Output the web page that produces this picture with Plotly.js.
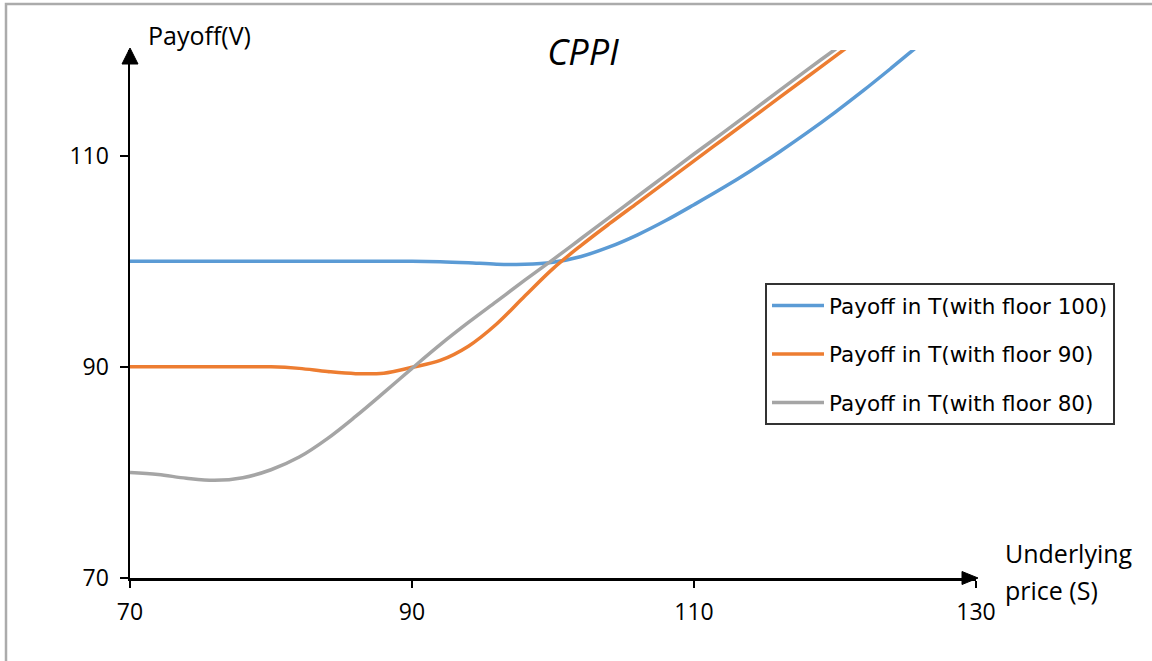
<!DOCTYPE html>
<html>
<head>
<meta charset="utf-8">
<script src="https://cdn.plot.ly/plotly-3.0.1.min.js"></script>
<style>
  html, body { margin: 0; padding: 0; background: #ffffff; }
  #chart { width: 1152px; height: 661px; }
</style>
</head>
<body>
<div id="chart"></div>
<script>
// Underlying price S at expiry
const priceS = [70, 72, 74, 76, 78, 80, 82, 84, 86, 88, 90, 92, 94, 96, 98, 100, 102, 104, 106, 108, 110, 112, 114, 116, 118, 120, 122, 124, 126, 128, 130];

// Payoff of the CPPI strategy at T for three floor levels
const payoffFloor100 = [100, 100, 100, 100, 100, 100, 100, 100, 100, 100, 100, 99.95, 99.85, 99.72, 99.7, 99.9, 100.45, 101.35, 102.5, 103.85, 105.35, 106.9, 108.55, 110.3, 112.15, 114.1, 116.15, 118.3, 120.5, 122.7, 124.9];
const payoffFloor90  = [90, 90, 90, 90, 90, 90, 89.85, 89.55, 89.35, 89.4, 89.95, 90.6, 91.95, 94.05, 96.7, 99.3, 101.5, 103.55, 105.53, 107.51, 109.5, 111.48, 113.46, 115.44, 117.42, 119.4, 121.38, 123.36, 125.34, 127.32, 129.3];
const payoffFloor80  = [80, 79.8, 79.45, 79.25, 79.5, 80.25, 81.45, 83.2, 85.3, 87.55, 89.85, 92.1, 94.2, 96.2, 98.2, 100.15, 102.15, 104.15, 106.15, 108.15, 110.15, 112.1, 114.1, 116.1, 118.1, 120.05, 122.05, 124.0, 126.0, 128.0, 130.0];

const seriesNames = ['Payoff in T(with floor 100)', 'Payoff in T(with floor 90)', 'Payoff in T(with floor 80)'];
const seriesColors = ['#5B9BD5', '#ED7D31', '#A5A5A5'];

const xTicks = [70, 90, 110, 130];
const yTicks = [70, 90, 110];

const seriesValues = [payoffFloor100, payoffFloor90, payoffFloor80];
const traces = seriesValues.map((vals, i) => ({
  x: priceS,
  y: vals,
  type: 'scatter',
  mode: 'lines',
  name: seriesNames[i],
  legendgroup: 'g' + i,
  line: { color: seriesColors[i], width: 3.5, shape: 'spline', smoothing: 1 },
  hoverinfo: 'x+y'
}));

// plot area in pixels: 846 wide, 528 tall
const PW = 846, PH = 528;
const px = p => p / PW;   // pixel -> paper (x)
const py = p => p / PH;   // pixel -> paper (y)

const baseFont = 'Open Sans, Noto Sans, sans-serif';

const shapes = [
  // outer frame of the chart
  { type: 'rect', xref: 'paper', yref: 'paper',
    x0: px(6 - 130), x1: 2, y0: -2, y1: 1 + py(50 - 4),
    line: { color: '#ababab', width: 2.5 }, fillcolor: 'rgba(0,0,0,0)', layer: 'below' },
  // arrow head of the price axis
  { type: 'path', xref: 'paper', yref: 'paper',
    path: `M ${1 + px(2)} 0 L ${1 - px(14)} ${py(6.5)} L ${1 - px(14)} ${-py(6.5)} Z`,
    fillcolor: '#000000', line: { color: '#000000', width: 1 } },
  // arrow head of the payoff axis
  { type: 'path', xref: 'paper', yref: 'paper',
    path: `M 0 ${1 + py(2)} L ${px(8)} ${1 - py(14)} L ${-px(8)} ${1 - py(14)} Z`,
    fillcolor: '#000000', line: { color: '#000000', width: 1 } }
];

const annotations = [
  { text: 'Payoff(V)', xref: 'paper', yref: 'paper', x: px(146 - 130), y: 1 + py(50 - 35),
    xanchor: 'left', yanchor: 'middle', showarrow: false,
    font: { family: baseFont, size: 25, color: '#000000' } },
  { text: 'Underlying', xref: 'paper', yref: 'paper', x: px(1003 - 130), y: py(578 - 553),
    xanchor: 'left', yanchor: 'middle', align: 'left', showarrow: false,
    font: { family: baseFont, size: 25, color: '#000000' } },
  { text: 'price (S)', xref: 'paper', yref: 'paper', x: px(1003 - 130), y: -py(590 - 578),
    xanchor: 'left', yanchor: 'middle', align: 'left', showarrow: false,
    font: { family: baseFont, size: 25, color: '#000000' } }
];

const layout = {
  width: 1152, height: 661,
  margin: { l: 130, r: 176, t: 50, b: 83 },
  paper_bgcolor: '#ffffff', plot_bgcolor: '#ffffff',
  title: { text: '<i>CPPI</i>', x: 583 / 1152, xref: 'container', xanchor: 'center',
           y: 1 - 52 / 661, yref: 'container', yanchor: 'middle',
           font: { family: baseFont, size: 36, color: '#000000' } },
  xaxis: { range: [70, 130], tickvals: xTicks, ticktext: xTicks.map(String),
           showgrid: false, zeroline: false, showline: true, linecolor: '#000000', linewidth: 2.5,
           ticks: 'outside', ticklen: 7, tickwidth: 2, tickcolor: '#000000',
           ticklabelstandoff: 5,
           tickfont: { family: baseFont, size: 23, color: '#000000' },
           fixedrange: true },
  yaxis: { range: [70, 120], tickvals: yTicks, ticktext: yTicks.map(String),
           showgrid: false, zeroline: false, showline: true, linecolor: '#000000', linewidth: 2.5,
           ticks: 'outside', ticklen: 8, tickwidth: 2, tickcolor: '#000000',
           ticklabelstandoff: 6,
           tickfont: { family: baseFont, size: 23, color: '#000000' },
           fixedrange: true },
  showlegend: true,
  legend: { x: px(765 - 130), y: py(578 - 283), xanchor: 'left', yanchor: 'top',
            bgcolor: '#ffffff', bordercolor: '#333333', borderwidth: 2,
            traceorder: 'grouped', tracegroupgap: 17.5, itemwidth: 52,
            font: { family: 'DejaVu Sans, Verdana, sans-serif', size: 21.5, color: '#000000' } },
  shapes: shapes,
  annotations: annotations
};

Plotly.newPlot('chart', traces, layout, { displayModeBar: false, staticPlot: true });
</script>
</body>
</html>
